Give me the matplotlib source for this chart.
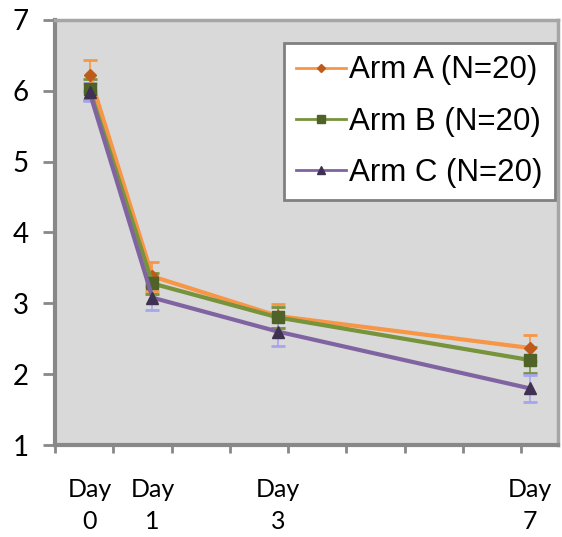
import matplotlib
matplotlib.use("Agg")
import matplotlib.pyplot as plt
from matplotlib.lines import Line2D
import numpy as np

days = [0, 1, 3, 7]
day_labels = ["Day\n0", "Day\n1", "Day\n3", "Day\n7"]
series_names = ["Arm A (N=20)", "Arm B (N=20)", "Arm C (N=20)"]
arm_a = [6.22, 3.38, 2.82, 2.37]
arm_a_err = [0.22, 0.2, 0.17, 0.18]
arm_b = [6.02, 3.28, 2.8, 2.2]
arm_b_err = [0.15, 0.15, 0.15, 0.18]
arm_c = [5.98, 3.08, 2.6, 1.8]
arm_c_err = [0.13, 0.17, 0.2, 0.19]

fig = plt.figure(figsize=(5.62, 5.37), dpi=100)
ax = fig.add_axes([55/562, 92/537, 503/562, 425/537])
ax.set_facecolor("#d9d9d9")

styles = [
    dict(color="#f79646", mfc="#c05a1a", mec="#c05a1a", marker="D", ms=6, ecolor="#f79646"),
    dict(color="#77933c", mfc="#4f6228", mec="#4f6228", marker="s", ms=9, ecolor="#77933c"),
    dict(color="#8064a2", mfc="#3f3151", mec="#3f3151", marker="^", ms=9, ecolor="#a5a5f0"),
]
data = [(arm_a, arm_a_err), (arm_b, arm_b_err), (arm_c, arm_c_err)]
handles = []
for (vals, errs), st, name in zip(data, styles, series_names):
    ax.errorbar(days, vals, yerr=errs, color=st["color"], lw=3, marker=st["marker"],
                ms=st["ms"], mfc=st["mfc"], mec=st["mec"], ecolor=st["ecolor"],
                elinewidth=1.2, capsize=5, capthick=2)
    handles.append(Line2D([], [], color=st["color"], lw=2, marker=st["marker"],
                          ms=st["ms"] * 0.7, mfc=st["mfc"], mec=st["mec"], label=name))

ax.set_ylim(1, 7)
ax.set_xlim(-0.5, 7.45)
ax.set_yticks(range(1, 8))
ax.tick_params(axis="y", direction="out", length=9, width=2, color="#888888",
               labelsize=20, pad=10)
for lab in ax.get_yticklabels():
    lab.set_fontfamily("Lato")

ax.set_xticks(days)
ax.set_xticklabels(day_labels, fontfamily="Lato", fontsize=18, linespacing=1.45)
ax.tick_params(axis="x", which="major", length=0, pad=24)
ax.set_xticks(np.arange(-0.55, 7.5, 0.927), minor=True)
ax.tick_params(axis="x", which="minor", direction="out", length=6, width=2, color="#888888")

for s in ["left", "bottom"]:
    ax.spines[s].set_color("#888888")
    ax.spines[s].set_linewidth(3)
for s in ["top", "right"]:
    ax.spines[s].set_color("#a6a6a6")
    ax.spines[s].set_linewidth(2.5)

leg = ax.legend(handles=handles, loc="upper right", bbox_to_anchor=(0.995, 0.946),
                prop={"family": "Liberation Sans", "size": 22.5},
                frameon=True, fancybox=False, framealpha=1, edgecolor="#808080",
                handlelength=1.6, handletextpad=0.1, borderpad=0.4, labelspacing=0.68,
                borderaxespad=0)
leg.get_frame().set_linewidth(2)

fig.savefig("out.png", dpi=100)
